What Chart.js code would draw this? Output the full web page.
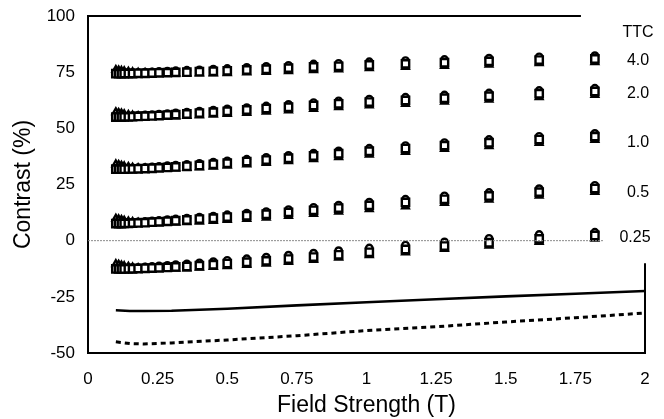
<!DOCTYPE html>
<html>
<head>
<meta charset="utf-8">
<script src="https://cdn.jsdelivr.net/npm/chart.js@4/dist/chart.umd.min.js"></script>
<style>
  html, body { margin: 0; padding: 0; background: #fff; }
  #wrap { width: 664px; height: 419px; }
</style>
</head>
<body>
<div id="wrap"><canvas id="contrastChart" width="664" height="419"></canvas></div>
<script>
// field strength of each measurement (T)
const fieldT = [0.10, 0.11, 0.12, 0.13, 0.145, 0.16, 0.18, 0.205, 0.23, 0.255, 0.285, 0.315, 0.355, 0.40,
    0.45, 0.50, 0.57, 0.64, 0.72, 0.81, 0.90, 1.01, 1.14, 1.28, 1.44, 1.62, 1.82];

// contrast (%) per TTC level, three marker types each
const ttc40Sq = [74.3, 74.3, 74.3, 74.4, 74.4, 74.4, 74.5, 74.5, 74.6, 74.7, 74.8, 74.9, 75.0, 75.2, 75.4, 75.6, 76.0, 76.3, 76.8, 77.3, 77.6, 78.2, 78.7, 79.2, 79.8, 80.4, 80.9];
const ttc40Ci = [74.6, 74.6, 74.6, 74.7, 74.8, 74.8, 74.9, 75.0, 75.1, 75.3, 75.4, 75.6, 75.8, 76.0, 76.3, 76.6, 77.1, 77.5, 78.0, 78.6, 78.9, 79.6, 80.1, 80.6, 81.2, 81.8, 82.3];
const ttc40Tr = [76.0, 75.8, 75.6, 75.4, 75.2, 75.0, 74.8, 74.6, 74.5, 74.4, 74.4, 74.4, 74.4, 74.5, 74.5, 74.6, 74.9, 75.1, 75.5, 75.9, 76.2, 76.8, 77.3, 77.8, 78.4, 79.0, 79.5];

const ttc20Sq = [55.0, 55.0, 55.0, 55.1, 55.1, 55.2, 55.3, 55.4, 55.5, 55.7, 55.9, 56.1, 56.4, 56.8, 57.2, 57.6, 58.2, 58.8, 59.4, 60.2, 60.9, 61.7, 62.4, 63.4, 64.3, 65.4, 66.4];
const ttc20Ci = [55.3, 55.3, 55.3, 55.4, 55.5, 55.6, 55.7, 55.9, 56.0, 56.3, 56.5, 56.8, 57.2, 57.6, 58.1, 58.6, 59.2, 59.9, 60.6, 61.4, 62.2, 63.0, 63.8, 64.8, 65.7, 66.8, 67.8];
const ttc20Tr = [57.2, 56.9, 56.6, 56.3, 56.0, 55.7, 55.4, 55.2, 55.1, 55.1, 55.2, 55.3, 55.5, 55.8, 56.1, 56.4, 56.9, 57.4, 58.0, 58.7, 59.4, 60.2, 60.9, 61.9, 62.8, 63.9, 64.9];

const ttc10Sq = [31.8, 31.8, 31.8, 31.8, 31.9, 31.9, 32.0, 32.1, 32.2, 32.4, 32.6, 32.8, 33.1, 33.5, 34.0, 34.5, 35.2, 35.9, 36.7, 37.7, 38.7, 39.8, 41.0, 42.3, 43.6, 45.0, 46.3];
const ttc10Ci = [32.1, 32.1, 32.1, 32.2, 32.3, 32.3, 32.5, 32.6, 32.8, 33.0, 33.3, 33.6, 33.9, 34.4, 34.9, 35.5, 36.2, 37.0, 37.9, 38.9, 39.9, 41.1, 42.3, 43.6, 45.0, 46.4, 47.7];
const ttc10Tr = [34.0, 33.7, 33.4, 33.1, 32.8, 32.5, 32.3, 32.1, 32.0, 32.0, 32.1, 32.2, 32.4, 32.6, 33.0, 33.4, 34.0, 34.6, 35.4, 36.3, 37.2, 38.3, 39.5, 40.8, 42.1, 43.5, 44.8];

const ttc05Sq = [7.6, 7.6, 7.6, 7.7, 7.7, 7.8, 7.9, 8.0, 8.2, 8.4, 8.6, 8.9, 9.2, 9.6, 10.0, 10.5, 11.1, 11.8, 12.6, 13.5, 14.5, 15.7, 17.0, 18.4, 19.9, 21.6, 23.2];
const ttc05Ci = [7.9, 7.9, 7.9, 8.0, 8.1, 8.2, 8.3, 8.5, 8.7, 9.0, 9.3, 9.6, 10.0, 10.4, 10.9, 11.5, 12.2, 12.9, 13.8, 14.8, 15.8, 17.1, 18.4, 19.9, 21.4, 23.1, 24.6];
const ttc05Tr = [9.8, 9.5, 9.2, 8.9, 8.6, 8.3, 8.0, 7.8, 7.8, 7.8, 7.9, 8.0, 8.2, 8.5, 8.8, 9.2, 9.7, 10.3, 11.0, 11.9, 12.9, 14.0, 15.3, 16.8, 18.3, 20.0, 21.7];

const ttc025Sq = [-12.6, -12.6, -12.6, -12.6, -12.5, -12.5, -12.4, -12.3, -12.2, -12.1, -11.9, -11.7, -11.5, -11.1, -10.7, -10.2, -9.6, -9.0, -8.2, -7.3, -6.3, -5.2, -3.9, -2.4, -0.9, 0.8, 2.3];
const ttc025Ci = [-12.3, -12.3, -12.3, -12.2, -12.1, -12.0, -11.9, -11.7, -11.5, -11.3, -11.0, -10.7, -10.4, -9.9, -9.4, -8.8, -8.1, -7.4, -6.5, -5.6, -4.5, -3.3, -2.0, -0.6, 1.0, 2.7, 3.7];
const ttc025Tr = [-10.4, -10.7, -11.0, -11.3, -11.6, -11.9, -12.2, -12.4, -12.5, -12.5, -12.5, -12.4, -12.3, -12.0, -11.7, -11.3, -10.8, -10.2, -9.5, -8.6, -7.6, -6.5, -5.2, -3.7, -2.2, -0.5, 0.9];

// reference curves
const curveT = [0.10, 0.15, 0.20, 0.30, 0.50, 0.75, 1.00, 1.25, 1.50, 1.75, 2.00];
const solidCurve = [-31.0, -31.3, -31.3, -31.2, -30.3, -28.8, -27.4, -26.1, -24.8, -23.6, -22.4];
const dashedCurve = [-45.0, -45.8, -46.0, -45.5, -44.2, -42.3, -40.0, -38.3, -36.2, -34.3, -32.2];

// dotted zero line
const zeroLineT = [0, 1.85];
const zeroLineY = [0, 0];

// TTC labels on the right
const ttcLabels = ['4.0', '2.0', '1.0', '0.5', '0.25'];

const xTicks = [0, 0.25, 0.5, 0.75, 1, 1.25, 1.5, 1.75, 2];
const yTicks = [-50, -25, 0, 25, 50, 75, 100];

const FONT = "'Liberation Sans', Arial, Helvetica, sans-serif";

function toPoints(xs, ys) {
    return xs.map((x, i) => ({ x: x, y: ys[i] }));
}

function markerSet(ys, style, radius) {
    return {
        data: toPoints(fieldT, ys),
        showLine: false,
        pointStyle: style,
        pointRadius: radius,
        pointBorderWidth: 2.4,
        pointBorderColor: '#000',
        pointBackgroundColor: '#fff'
    };
}

const groups = [
    [ttc40Sq, ttc40Ci, ttc40Tr],
    [ttc20Sq, ttc20Ci, ttc20Tr],
    [ttc10Sq, ttc10Ci, ttc10Tr],
    [ttc05Sq, ttc05Ci, ttc05Tr],
    [ttc025Sq, ttc025Ci, ttc025Tr]
];

const datasets = [];

datasets.push({
    data: toPoints(zeroLineT, zeroLineY),
    showLine: true,
    borderColor: '#8a8a8a',
    borderWidth: 1,
    borderDash: [2, 1],
    pointRadius: 0
});

groups.forEach(g => {
    datasets.push(markerSet(g[0], 'rect', 5.2));
    datasets.push(markerSet(g[1], 'circle', 3.3));
    datasets.push(markerSet(g[2], 'triangle', 3.8));
});

datasets.push({
    data: toPoints(curveT, solidCurve),
    showLine: true,
    borderColor: '#000',
    borderWidth: 2.6,
    pointRadius: 0
});

datasets.push({
    data: toPoints(curveT, dashedCurve),
    showLine: true,
    borderColor: '#000',
    borderWidth: 3,
    borderDash: [5, 4],
    pointRadius: 0
});

// partial frame lines and the TTC annotations
const framePlugin = {
    id: 'frameAndLabels',
    afterDraw(chart) {
        const ctx = chart.ctx;
        const xs = chart.scales.x;
        const ys = chart.scales.y;
        ctx.save();
        ctx.strokeStyle = '#000';
        ctx.lineWidth = 2;
        ctx.beginPath();
        ctx.moveTo(xs.getPixelForValue(0), ys.getPixelForValue(100));
        ctx.lineTo(xs.getPixelForValue(1.77), ys.getPixelForValue(100));
        ctx.stroke();
        ctx.beginPath();
        ctx.moveTo(xs.getPixelForValue(2), ys.getPixelForValue(-10));
        ctx.lineTo(xs.getPixelForValue(2), ys.getPixelForValue(-50));
        ctx.stroke();

        ctx.fillStyle = '#000';
        ctx.font = '16px ' + FONT;
        ctx.textAlign = 'center';
        ctx.textBaseline = 'middle';
        const lx = xs.getPixelForValue(1.975);
        ctx.fillText('TTC', lx, ys.getPixelForValue(92.7));
        const labelY = [80, 65.3, 43.7, 21.4, 1.4];
        ttcLabels.forEach((t, i) => {
            ctx.fillText(t, lx - (t.length > 3 ? 3 : 0), ys.getPixelForValue(labelY[i]));
        });
        ctx.restore();
    }
};

new Chart(document.getElementById('contrastChart'), {
    type: 'scatter',
    data: { datasets: datasets },
    options: {
        responsive: false,
        animation: false,
        layout: { padding: { top: 16, right: 19, left: 0, bottom: 0 } },
        plugins: {
            legend: { display: false },
            tooltip: { enabled: false }
        },
        scales: {
            x: {
                type: 'linear',
                min: 0,
                max: 2,
                afterBuildTicks: axis => { axis.ticks = xTicks.map(v => ({ value: v })); },
                afterFit: axis => { axis.height = 66; axis.paddingLeft = 0; axis.paddingRight = 0; },
                grid: { display: false, drawTicks: false },
                border: { display: true, color: '#000', width: 2 },
                ticks: {
                    color: '#000',
                    padding: 16,
                    font: { family: FONT, size: 17 },
                    callback: v => String(v)
                },
                title: {
                    display: true,
                    text: 'Field Strength (T)',
                    color: '#000',
                    font: { family: FONT, size: 23 },
                    padding: { top: 0, bottom: 0 }
                }
            },
            y: {
                type: 'linear',
                min: -50,
                max: 100,
                afterBuildTicks: axis => { axis.ticks = yTicks.map(v => ({ value: v })); },
                afterFit: axis => { axis.width = 88; axis.paddingTop = 0; axis.paddingBottom = 0; },
                grid: { display: false, drawTicks: false },
                border: { display: true, color: '#000', width: 2 },
                ticks: {
                    color: '#000',
                    padding: 13,
                    font: { family: FONT, size: 17 },
                    callback: v => String(v)
                },
                title: {
                    display: true,
                    text: 'Contrast (%)',
                    color: '#000',
                    font: { family: FONT, size: 23 },
                    padding: { top: 10, bottom: 0 }
                }
            }
        }
    },
    plugins: [framePlugin]
});
</script>
</body>
</html>
